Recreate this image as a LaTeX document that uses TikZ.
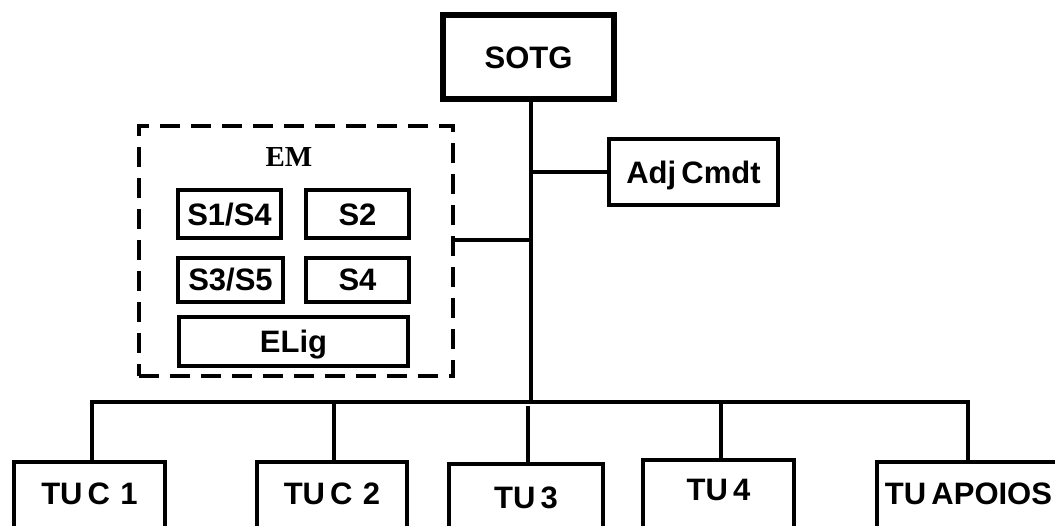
\documentclass[tikz,border=0pt]{standalone}
\usepackage{fontspec}
\setmainfont{Liberation Sans}
\newfontfamily\timesf{Liberation Serif}
\begin{document}
\begin{tikzpicture}[x=1pt,y=-1pt,
  box/.style={draw, line width=4pt, inner sep=0pt, font=\bfseries\fontsize{31}{37}\selectfont, text height=22.2pt, text depth=0pt},
  tubox/.style={draw, line width=4pt, inner sep=0pt, anchor=base, font=\bfseries\fontsize{31}{37}\selectfont},
  conn/.style={line width=4pt},
  embox/.style={draw, line width=4pt, dash pattern=on 20pt off 11pt, inner sep=0pt}]
\useasboundingbox (0,0) rectangle (1055,525);
\clip (0,0) rectangle (1055,525);
\fill[white] (0,0) rectangle (1055,525);
% top
\node[box, line width=6pt, minimum width=171pt, minimum height=84pt] (sotg) at (528.5,57) {SOTG};
\node[box, minimum width=169pt, minimum height=66pt] (adj) at (693.5,172) {Adj\,Cmdt};
% EM group
\node[embox, minimum width=314pt, minimum height=250pt] (em) at (296,251) {};
\node[font=\timesf\bfseries\fontsize{29}{34}\selectfont, inner sep=0pt] (emlabel) at (289,157) {EM};
\node[box, minimum width=103pt, minimum height=48pt] (s14) at (229.5,214) {S1/S4};
\node[box, minimum width=103pt, minimum height=48pt] (s2) at (357.5,214) {S2};
\node[box, minimum width=105pt, minimum height=44pt] (s35) at (230.5,279.5) {S3/S5};
\node[box, minimum width=103pt, minimum height=44pt] (s4) at (357.5,279.5) {S4};
\node[box, minimum width=229pt, minimum height=49pt] (elig) at (293.5,341.5) {ELig};
% bottom units
\node[tubox, minimum width=151pt, text height=42pt, text depth=45pt] (tu1) at (89.5,504) {TU\,C\,\,1};
\node[tubox, minimum width=150pt, text height=42pt, text depth=45pt] (tu2) at (332,504) {TU\,C\,\,2};
\node[tubox, minimum width=154pt, text height=44pt, text depth=45pt] (tu3) at (526,508) {TU\,3};
\node[tubox, minimum width=151pt, text height=40pt, text depth=45pt] (tu4) at (718.5,500) {TU\,4};
\node[tubox, minimum width=183pt, text height=42pt, text depth=45pt] (tu5) at (968.5,504) {TU\,APOIOS};
% junctions
\coordinate (jadj) at (531,172);
\coordinate (jem) at (531,240);
\coordinate (jbar) at (531,402);
\coordinate (barL) at (90,402);
\coordinate (barR) at (970,402);
\coordinate (d1) at (92,402);
\coordinate (d2) at (334,402);
\coordinate (d3) at (528,406);
\coordinate (d4) at (721,402);
\coordinate (d5) at (968,402);
% connectors
\draw[conn] (sotg.south -| jbar) -- (jbar);
\draw[conn] (jadj) -- (adj.west);
\draw[conn] (em.east |- jem) -- (jem);
\draw[conn] (barL) -- (barR);
\draw[conn] (d1) -- (d1 |- tu1.north);
\draw[conn] (d2) -- (d2 |- tu2.north);
\draw[conn] (d3) -- (d3 |- tu3.north);
\draw[conn] (d4) -- (d4 |- tu4.north);
\draw[conn] (d5) -- (d5 |- tu5.north);
\end{tikzpicture}
\end{document}
